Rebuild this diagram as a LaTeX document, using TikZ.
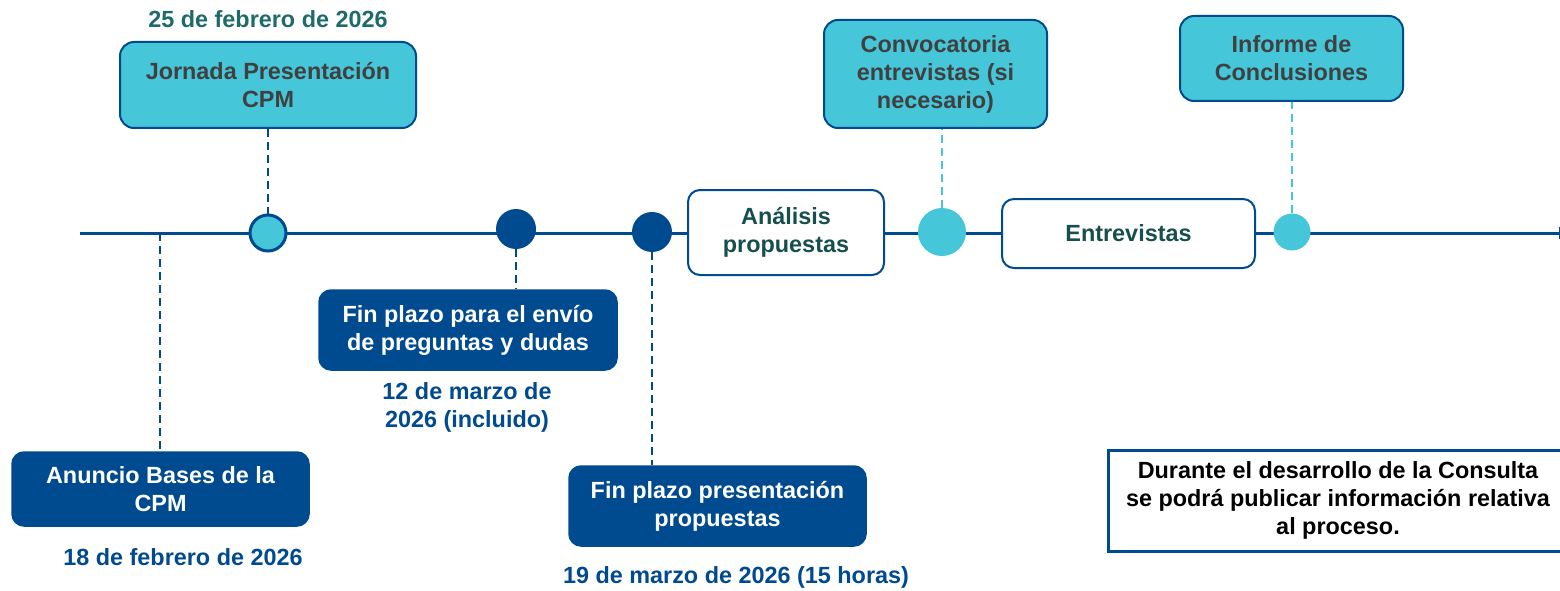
\documentclass[tikz,border=0pt]{standalone}
\usepackage{fontspec}
\setmainfont{Liberation Sans}
\usetikzlibrary{arrows.meta}
\definecolor{dblue}{HTML}{004A8F}
\definecolor{cyanf}{HTML}{45C6D9}
\definecolor{tealtxt}{HTML}{1F6B6B}
\definecolor{dteal}{HTML}{174F4F}
\definecolor{graytxt}{HTML}{404040}
\tikzset{
  txt/.style={font=\fontsize{23.4}{28}\selectfont\bfseries, align=center, inner sep=0pt},
  darkbox/.style={txt, rounded corners=12pt, fill=dblue, draw=dblue, line width=1.5pt, text=white},
  cyanbox/.style={txt, rounded corners=14pt, fill=cyanf, draw=dblue, line width=2pt, text=graytxt},
  whitebox/.style={txt, rounded corners=12pt, fill=white, draw=dblue, line width=2pt, text=dteal},
  datelbl/.style={txt, text=dblue},
  dotdark/.style={circle, fill=dblue, inner sep=0pt},
  dotcyan/.style={circle, fill=cyanf, inner sep=0pt},
  dlink/.style={draw=dblue, line width=1.8pt, dash pattern=on 8pt off 5pt},
  clink/.style={draw=cyanf, line width=1.8pt, dash pattern=on 8pt off 5pt},
}
\begin{document}
\begin{tikzpicture}[x=1pt,y=-1pt]
\useasboundingbox[fill=white] (0,0) rectangle (1560,591);
% timeline
\coordinate (t0) at (80,233);
\coordinate (t1) at (1573,233);
\draw[dblue, line width=3pt, -{Latex[length=14pt,width=13pt]}] (t0) -- (t1);
\coordinate (ta) at (160,233);
% nodes
\node[cyanbox, minimum width=296pt, minimum height=86pt] (jornada) at (268,85) {Jornada Presentación\\CPM};
\node[datelbl, text=tealtxt] (d25) at (268,19) {25 de febrero de 2026};
\node[darkbox, minimum width=297pt, minimum height=74pt] (anuncio) at (160.5,489) {Anuncio Bases de la\\CPM};
\node[datelbl] (d18) at (183,557) {18 de febrero de 2026};
\node[darkbox, minimum width=298pt, minimum height=80pt] (envio) at (468,330) {Fin plazo para el envío\\de preguntas y dudas};
\node[datelbl] (d12) at (467,407) {12 de marzo de\\2026 (incluido)};
\node[darkbox, minimum width=297pt, minimum height=80pt] (presen) at (717.5,506) {Fin plazo presentación\\propuestas};
\node[datelbl] (d19) at (736,577) {19 de marzo de 2026 (15 horas)};
\node[whitebox, minimum width=196pt, minimum height=85pt] (analisis) at (786,232.5) {Análisis\\propuestas};
\node[cyanbox, minimum width=223pt, minimum height=108pt] (conv) at (935.5,74) {Convocatoria\\entrevistas (si\\necesario)};
\node[whitebox, minimum width=253pt, minimum height=69pt] (entrev) at (1128.5,233.5) {Entrevistas};
\node[cyanbox, minimum width=223pt, minimum height=85pt] (informe) at (1291.5,58.5) {Informe de\\Conclusiones};
\node[txt, draw=dblue, line width=3pt, fill=white, text=black, minimum width=460pt, minimum height=101pt] (nota) at (1338,500.5) {Durante el desarrollo de la Consulta\\se podrá publicar información relativa\\al proceso.};
% dots
\node[circle, fill=cyanf, draw=dblue, line width=3pt, minimum size=36pt, inner sep=0pt] (c1) at (268,233) {};
\node[dotdark, minimum size=40pt] (c2) at (516,229) {};
\node[dotdark, minimum size=40pt] (c3) at (652,232) {};
\node[dotcyan, minimum size=48pt] (c4) at (942,232) {};
\node[dotcyan, minimum size=37pt] (c5) at (1292,232) {};
% dashed connectors
\draw[dlink] (jornada.south) -- (c1.north);
\draw[dlink] (ta) -- (ta |- anuncio.north);
\draw[dlink] (c2.south) -- (c2.south |- envio.north);
\draw[dlink] (c3.south) -- (c3.south |- presen.north);
\draw[clink] (c4.north) -- (c4.north |- conv.south);
\draw[clink] (c5.north) -- (c5.north |- informe.south);
\end{tikzpicture}
\end{document}
